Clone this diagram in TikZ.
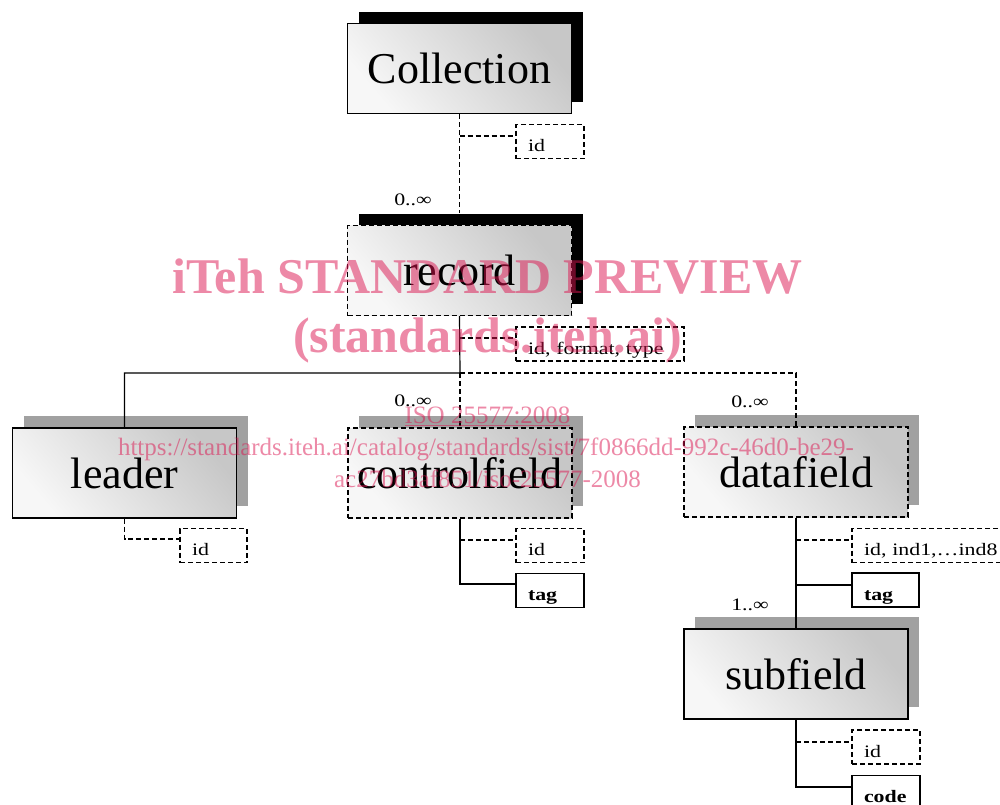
\documentclass[tikz,border=0pt]{standalone}
\usepackage{fontspec}
\setmainfont{Liberation Serif}
\newfontfamily\smallserif[FakeStretch=1.25]{Liberation Serif}
\usetikzlibrary{shadows,calc}
\definecolor{wmc}{RGB}{220,20,80}
\begin{document}
\begin{tikzpicture}[x=1pt,y=-1pt,
  ln/.style={line width=1.2pt},
  dsh/.style={line width=1.2pt, dash pattern=on 5pt off 3pt},
  big/.style={minimum width=224pt, minimum height=90pt, inner sep=0pt,
    top color=black!22, bottom color=black!3, shading angle=-50,
    font=\fontsize{44}{48}\selectfont, line width=1.2pt},
  blackshadow/.style={drop shadow={shadow xshift=11pt, shadow yshift=12pt, fill=black, opacity=1}},
  grayshadow/.style={drop shadow={shadow xshift=11pt, shadow yshift=12pt, fill=black!37, opacity=1}},
  solidbox/.style={draw},
  dashbox/.style={draw, dash pattern=on 5pt off 3pt},
  attr/.style={inner xsep=12pt, inner ysep=0pt, minimum height=34pt, text height=20pt, text depth=0pt,
    align=left, fill=white, line width=1.2pt, font=\smallserif\fontsize{17.5}{20}\selectfont},
  mult/.style={inner sep=0pt, font=\smallserif\fontsize{17.5}{20}\selectfont},
  wm/.style={text=wmc, opacity=0.5, inner sep=0pt, anchor=base}
]
\useasboundingbox (0,0) rectangle (1000,804);
\fill[white] (0,0) rectangle (1000,804);

% main boxes
\node[big, solidbox, blackshadow] (coll) at (459.5,68.5) {Collection};
\node[big, dashbox, blackshadow] (rec) at (459.5,270.5) {record};
\node[big, solidbox, grayshadow] (lead) at (124.5,473) {leader};
\node[big, dashbox, grayshadow] (cf) at (460,473) {controlfield};
\node[big, dashbox, grayshadow] (df) at (796,472) {datafield};
\node[big, solidbox, grayshadow] (sf) at (796,674) {subfield};

% attribute boxes
\node[attr, dashbox, text width=44pt] (cid) at (550,141.5) {id};
\node[attr, dashbox, text width=144pt] (rid) at (600,344) {id, format, type};
\node[attr, dashbox, text width=43pt] (lid) at (213.5,545.5) {id};
\node[attr, dashbox, text width=44pt] (cfid) at (550,545.5) {id};
\node[attr, solidbox, text width=44pt] (cftag) at (550,590.5) {\bfseries tag};
\node[attr, dashbox, text width=152pt] (dfid) at (940,545.5) {id, ind1,\ldots ind8};
\node[attr, solidbox, text width=43pt] (dftag) at (885.5,590) {\bfseries tag};
\node[attr, dashbox, text width=44pt] (sfid) at (886,747) {id};
\node[attr, solidbox, text width=44pt] (sfcode) at (886,792.5) {\bfseries code};

% multiplicities
\node[mult] (m1) at (413,200) {0..∞};
\node[mult] (m2) at (413,401) {0..∞};
\node[mult] (m3) at (750,402) {0..∞};
\node[mult] (m4) at (750,605) {1..∞};

% connectors
\coordinate (j) at (460,373);
\coordinate (c1) at ($(cid.west)+(0,-5.5)$);
\coordinate (c2) at ($(rid.west)+(0,-6)$);
\coordinate (c3) at ($(lid.west)+(0,-6.5)$);
\coordinate (c4) at ($(cfid.west)+(0,-5.5)$);
\coordinate (c5) at ($(cftag.west)+(0,-6.5)$);
\coordinate (c6) at ($(dfid.west)+(0,-5.5)$);
\coordinate (c7) at ($(dftag.west)+(0,-5)$);
\coordinate (c8) at ($(sfid.west)+(0,-5)$);
\coordinate (c9) at ($(sfcode.west)+(0,-5.5)$);

\draw[dsh] (coll.south) -- ($(rec.north)+(0,-12)$);
\draw[dsh] (coll.south |- c1) -- (c1);

\draw[ln] (rec.south) -- (j) -| (lead.north);
\draw[dsh] (j) -- (cf.north);
\draw[dsh] (j) -| (df.north);
\draw[dsh] (rec.south |- c2) -- (c2);

\draw[dsh] (lead.south) |- (c3);

\draw[ln] (cf.south) |- (c5);
\draw[dsh] (cf.south |- c4) -- (c4);

\draw[ln] (df.south) -- (sf.north);
\draw[dsh] (df.south |- c6) -- (c6);
\draw[ln] (df.south |- c7) -- (c7);

\draw[ln] (sf.south) |- (c9);
\draw[dsh] (sf.south |- c8) -- (c8);

% watermark
\node[wm, font=\bfseries\fontsize{50}{55}\selectfont] (w1) at (487.5,293) {iTeh STANDARD PREVIEW};
\node[wm, font=\bfseries\fontsize{50}{55}\selectfont] (w2) at (487.5,352) {(standards.iteh.ai)};
\node[wm, font=\fontsize{25}{28}\selectfont] (w3) at (487.5,423) {\underline{ISO 25577:2008}};
\node[wm, font=\fontsize{25}{28}\selectfont] (w4) at (486,455) {https://standards.iteh.ai/catalog/standards/sist/7f0866dd-992c-46d0-be29-};
\node[wm, font=\fontsize{25}{28}\selectfont] (w5) at (487.5,487) {ac27bd3af851/iso-25577-2008};
\end{tikzpicture}
\end{document}
